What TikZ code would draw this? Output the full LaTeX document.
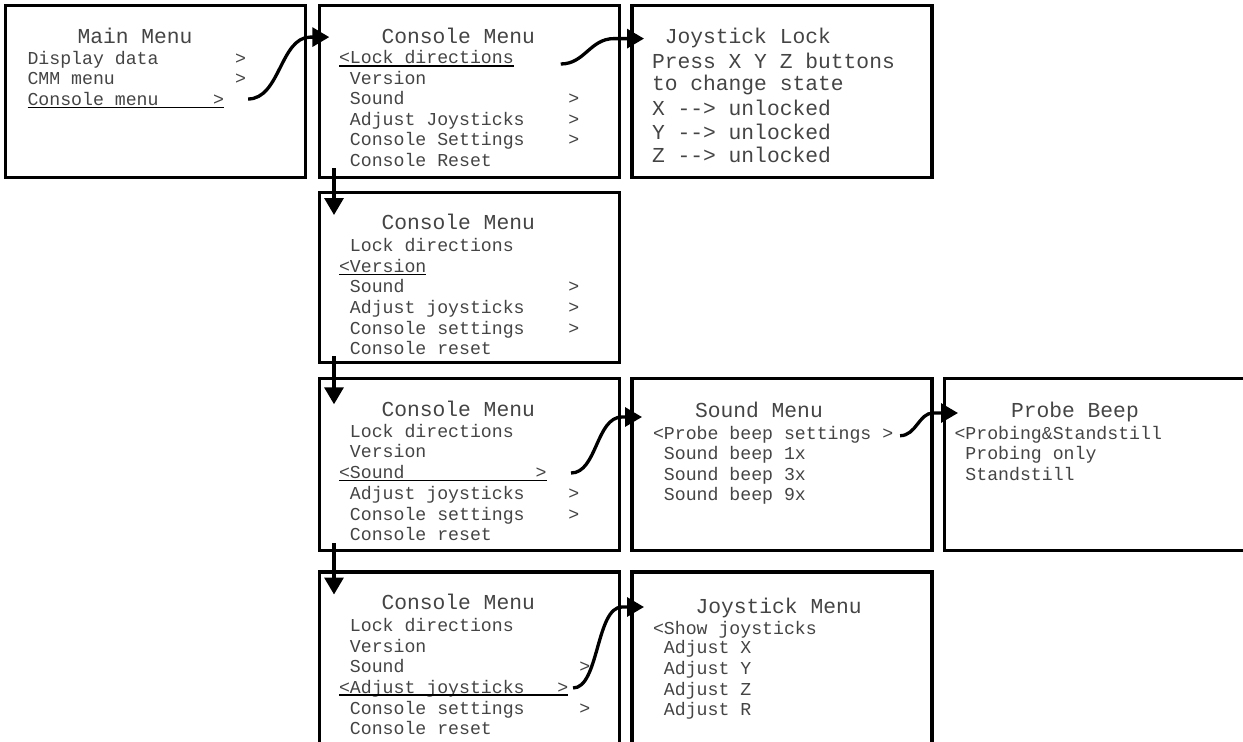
\documentclass[tikz,border=0pt]{standalone}
\usepackage{fontspec}
\setmonofont{Liberation Mono}
\usetikzlibrary{arrows.meta,calc}
\definecolor{txt}{HTML}{444444}
\tikzset{
  box/.style={draw=black, line width=3.3pt, inner sep=0pt, outer sep=0pt,
    minimum width=300pt, minimum height=172pt, anchor=north west},
  item/.style={anchor=base west, inner sep=0pt, outer sep=0pt, text=txt,
    font=\ttfamily\fontsize{18.2}{20}\selectfont},
  ttl/.style={item, font=\ttfamily\fontsize{21.3}{24}\selectfont},
  uline/.style={line width=1.1pt, black},
  conn/.style={line width=3.3pt, line cap=butt, -{Triangle[length=17pt,width=19pt]}},
}
\begin{document}
\begin{tikzpicture}[x=1pt,y=-1pt]
\useasboundingbox (0,0) rectangle (1243,742);
\clip (0,0) rectangle (1243,742);

% boxes
\node[box] (main)  at (5.5,5.6) {};
\node[box] (con1)  at (319.3,5.6) {};
\node[box] (lock)  at (632,5.6) {};
\node[box, minimum height=170pt] (con2) at (319.3,192.5) {};
\node[box] (con3)  at (319.3,378.8) {};
\node[box] (sound) at (632,378.8) {};
\node[box] (probe) at (944.5,378.8) {};
\node[box, minimum height=180pt] (con4) at (319.3,572) {};
\node[box, minimum height=180pt] (joy)  at (632,572) {};

% Main menu
\node[ttl]  (mt) at (77.5,43.3) {Main Menu};
\node[item] (m1) at (27.5,64)   {Display data~~~~~~~>};
\node[item] (m2) at (27.5,84.5) {CMM menu~~~~~~~~~~~>};
\node[item] (m3) at (27.5,105)  {Console menu~~~~~>};
\draw[uline] ([yshift=-2.5pt]m3.base west) -- ([yshift=-2.5pt]m3.base east);

% Console menu 1
\node[ttl]  (c1t) at (381.5,43.3) {Console Menu};
\node[item] (c1a) at (339,63.5)  {<Lock directions};
\node[item] (c1b) at (339,84)    {~Version};
\node[item] (c1c) at (339,104.5) {~Sound~~~~~~~~~~~~~~~>};
\node[item] (c1d) at (339,125)   {~Adjust Joysticks~~~~>};
\node[item] (c1e) at (339,145.7) {~Console Settings~~~~>};
\node[item] (c1f) at (339,166.5) {~Console Reset};
\draw[uline] ([yshift=-2.5pt]c1a.base west) -- ([yshift=-2.5pt]c1a.base east);

% Joystick lock
\node[ttl] (lt) at (652,43.3)  {~Joystick Lock};
\node[ttl] (l1) at (652,68.3)  {Press X Y Z buttons};
\node[ttl] (l2) at (652,90.7)  {to change state};
\node[ttl] (l3) at (652,115)   {X -{}-> unlocked};
\node[ttl] (l4) at (652,139.3) {Y -{}-> unlocked};
\node[ttl] (l5) at (652,162.7) {Z -{}-> unlocked};

% Console menu 2
\node[ttl]  (c2t) at (381.5,229.3) {Console Menu};
\node[item] (c2a) at (339,251)   {~Lock directions};
\node[item] (c2b) at (339,272)   {<Version};
\node[item] (c2c) at (339,292.5) {~Sound~~~~~~~~~~~~~~~>};
\node[item] (c2d) at (339,313.3) {~Adjust joysticks~~~~>};
\node[item] (c2e) at (339,334)   {~Console settings~~~~>};
\node[item] (c2f) at (339,354.5) {~Console reset};
\draw[uline] ([yshift=-2.5pt]c2b.base west) -- ([yshift=-2.5pt]c2b.base east);

% Console menu 3
\node[ttl]  (c3t) at (381.5,416.7) {Console Menu};
\node[item] (c3a) at (339,437.7) {~Lock directions};
\node[item] (c3b) at (339,457.8) {~Version};
\node[item] (c3c) at (339,478.3) {<Sound~~~~~~~~~~~~>};
\node[item] (c3d) at (339,499.3) {~Adjust joysticks~~~~>};
\node[item] (c3e) at (339,520)   {~Console settings~~~~>};
\node[item] (c3f) at (339,540)   {~Console reset};
\draw[uline] ([yshift=-2pt]c3c.base west) -- ([yshift=-2pt]c3c.base east);

% Sound menu
\node[ttl]  (st) at (695,417)   {Sound Menu};
\node[item] (s1) at (653,439)   {<Probe beep settings >};
\node[item] (s2) at (653,459.5) {~Sound beep 1x};
\node[item] (s3) at (653,480)   {~Sound beep 3x};
\node[item] (s4) at (653,500.5) {~Sound beep 9x};

% Probe beep
\node[ttl]  (pt) at (1011,417)   {Probe Beep};
\node[item] (p1) at (954.5,439)  {<Probing\&Standstill};
\node[item] (p2) at (954.5,459.5){~Probing only};
\node[item] (p3) at (954.5,480)  {~Standstill};

% Console menu 4
\node[ttl]  (c4t) at (381.5,609.3) {Console Menu};
\node[item] (c4a) at (339,631.5) {~Lock directions};
\node[item] (c4b) at (339,652)   {~Version};
\node[item] (c4c) at (339,672.5) {~Sound~~~~~~~~~~~~~~~~>};
\node[item] (c4d) at (339,693)   {<Adjust joysticks~~~>};
\node[item] (c4e) at (339,714)   {~Console settings~~~~~>};
\node[item] (c4f) at (339,734)   {~Console reset};
\draw[uline] ([yshift=-2pt]c4d.base west) -- ([yshift=-2pt]c4d.base east);

% Joystick menu
\node[ttl]  (jt) at (695.5,613) {Joystick Menu};
\node[item] (j1) at (653,634)   {<Show joysticks};
\node[item] (j2) at (653,653.5) {~Adjust X};
\node[item] (j3) at (653,674.3) {~Adjust Y};
\node[item] (j4) at (653,695)   {~Adjust Z};
\node[item] (j5) at (653,715.7) {~Adjust R};

% connector start points
\coordinate (a1) at ([shift={(24,-6)}]m3.base east);
\coordinate (a2) at ([shift={(47,0.5)}]c1a.base east);
\coordinate (a3) at ([shift={(24.5,-5.3)}]c3c.base east);
\coordinate (a4) at ([shift={(6.8,-3.3)}]s1.base east);
\coordinate (a5) at ([shift={(4.7,-5)}]c4d.base east);

% curved connectors
\draw[conn] (a1) .. controls +(32,0) and +(-30,0) .. ([shift={(-9,31.5)}]con1.north west)
  -- ([shift={(10,31.5)}]con1.north west);
\draw[conn] (a2) .. controls +(24,0) and +(-24,0) .. ([shift={(-18,33)}]lock.north west)
  -- ([shift={(12,33)}]lock.north west);
\draw[conn] (a3) .. controls +(26,0) and +(-26,0) .. ([shift={(-10,38.2)}]sound.north west)
  -- ([shift={(10,38.2)}]sound.north west);
\draw[conn] (a4) .. controls +(16,0) and +(-14,0) .. ([shift={(-11.5,34.2)}]probe.north west)
  -- ([shift={(13.5,34.2)}]probe.north west);
\draw[conn] (a5) .. controls +(26,0) and +(-26,0) .. ([shift={(-10,35)}]joy.north west)
  -- ([shift={(12,35)}]joy.north west);

% vertical connectors
\draw[conn] ([shift={(14.7,-9.5)}]con1.south west) -- ([shift={(14.7,22.5)}]con2.north west);
\draw[conn] ([shift={(14.7,-6.5)}]con2.south west) -- ([shift={(14.7,25.5)}]con3.north west);
\draw[conn] ([shift={(14.7,-7.5)}]con3.south west) -- ([shift={(14.7,22.5)}]con4.north west);
\end{tikzpicture}
\end{document}
